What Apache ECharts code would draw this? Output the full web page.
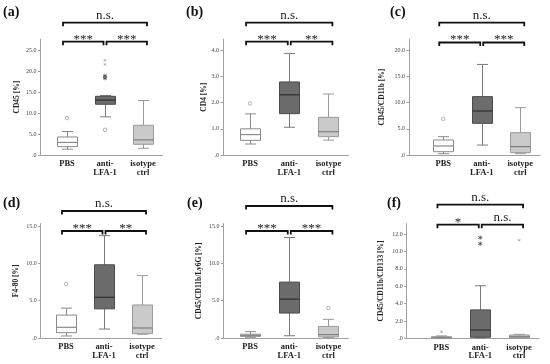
<!DOCTYPE html>
<html><head><meta charset="utf-8">
<script src="https://cdn.jsdelivr.net/npm/echarts@6/dist/echarts.min.js"></script>
<style>html,body{margin:0;padding:0;background:#fff}#c{width:550px;height:364px}</style>
</head><body><div id="c"></div>
<script>
// ---------------- data ----------------
const categories = ['PBS', 'anti-\nLFA-1', 'isotype\nctrl'];
const panelLabels = ['(a)', '(b)', '(c)', '(d)', '(e)', '(f)'];
const yTitles = ['CD45 [%]', 'CD4 [%]', 'CD45/CD11b [%]', 'F4-80 [%]', 'CD45/CD11b/Ly6G [%]', 'CD45/CD11b/CD133 [%]'];

// [lower whisker, Q1, median, Q3, upper whisker] per category
const boxA = [[1.4, 2.0, 3.0, 4.3, 5.6], [9.1, 12.1, 13.1, 14.0, 14.2], [1.6, 2.55, 3.6, 7.1, 13.0]];
const boxB = [[0.42, 0.56, 0.78, 1.0, 1.57], [1.06, 1.58, 2.30, 2.79, 3.88], [0.57, 0.70, 0.89, 1.44, 2.33]];
const boxC = [[0.25, 0.63, 1.72, 2.87, 3.5], [1.9, 6.05, 8.4, 11.15, 17.3], [0.25, 0.45, 1.6, 4.27, 9.05]];
const boxD = [[0.27, 0.71, 1.43, 3.07, 4.0], [1.2, 3.9, 5.45, 9.8, 13.7], [0.5, 0.58, 1.34, 4.42, 8.35]];
const boxE = [[0.1, 0.22, 0.35, 0.5, 0.85], [0.3, 3.34, 5.2, 7.48, 13.45], [0.05, 0.15, 0.45, 1.55, 2.5]];
const boxF = [[0.02, 0.05, 0.1, 0.17, 0.27], [0.05, 0.12, 0.96, 3.27, 6.05], [0.03, 0.07, 0.18, 0.38, 0.46]];

// outliers: [category index, value, kind]  (o = circle, * = extreme, f = faint)
const outA = [[0, 8.8, 'o'], [1, 6.0, 'o'], [1, 18.3, '*'], [1, 18.9, '*'], [1, 21.6, 'f'], [1, 22.6, 'f']];
const outB = [[0, 1.97, 'o']];
const outC = [[0, 6.9, 'o']];
const outD = [[0, 7.2, 'o']];
const outE = [[2, 4.0, 'o']];
const outF = [[0, 0.75, 'f'], [1, 10.9, '*'], [1, 11.6, '*'], [2, 11.3, 'f']];

// y tick labels
const ticksA = [0, 5, 10, 15, 20, 25];
const ticksB = [0, 1, 2, 3, 4];
const ticksC = [0, 5, 10, 15, 20];
const ticksD = [0, 5, 10, 15];
const ticksE = [0, 5, 10, 15];
const ticksF = [0, 2, 4, 6, 8, 10, 12];
const yMax = [27.6, 4.42, 22.1, 15.3, 15.3, 13.2];

// significance brackets: [from category, to category, label, level (1 = upper)]
const brA = [[0, 2, 'n.s.', 1], [0, 1, '***', 0], [1, 2, '***', 0]];
const brB = [[0, 2, 'n.s.', 1], [0, 1, '***', 0], [1, 2, '**', 0]];
const brC = [[0, 2, 'n.s.', 1], [0, 1, '***', 0], [1, 2, '***', 0]];
const brD = [[0, 2, 'n.s.', 1], [0, 1, '***', 0], [1, 2, '**', 0]];
const brE = [[0, 2, 'n.s.', 1], [0, 1, '***', 0], [1, 2, '***', 0]];
const brF = [[0, 2, 'n.s.', 1], [0, 1, '*', 0], [1, 2, 'n.s.', 0]];

const boxes = [boxA, boxB, boxC, boxD, boxE, boxF];
const outliers = [outA, outB, outC, outD, outE, outF];
const ticks = [ticksA, ticksB, ticksC, ticksD, ticksE, ticksF];
const brackets = [brA, brB, brC, brD, brE, brF];

// ---------------- layout / style ----------------
const FONT = 'Liberation Serif';
const layout = [
  { axisX: 40.5, left: 48, width: 114, top: 39.3, height: 115.7, gap: 19, lx: 3, ly: 5, brY: [41.7, 22.7] },
  { axisX: 223, left: 230.5, width: 117.5, top: 39.3, height: 115.7, gap: 15, lx: 186, ly: 5, brY: [41.7, 22.7] },
  { axisX: 409, left: 424, width: 115.5, top: 39.3, height: 115.7, gap: 23, lx: 390, ly: 5, brY: [42.5, 22.7] },
  { axisX: 40.7, left: 47, width: 114, top: 223.7, height: 114.3, gap: 21, lx: 3, ly: 196, brY: [231, 211] },
  { axisX: 223.5, left: 230.5, width: 117.5, top: 223.7, height: 114.3, gap: 20, lx: 187, ly: 196, brY: [231, 206] },
  { axisX: 406.7, left: 422, width: 116.5, top: 223.7, height: 114.6, gap: 22, lx: 387, ly: 196, brY: [224.7, 204.7] }
];
const boxStyles = [
  { fill: '#ffffff', stroke: '#8a8a8a', median: '#8a8a8a', whisker: '#8a8a8a' },
  { fill: '#6c6c6c', stroke: '#4a4a4a', median: '#2e2e2e', whisker: '#7a7a7a' },
  { fill: '#cacaca', stroke: '#9a9a9a', median: '#7e7e7e', whisker: '#9a9a9a' }
];
const AST = 'path://M5 0V10M0.7 2.5L9.3 7.5M9.3 2.5L0.7 7.5';

function boxRenderer(params, api) {
  const c = api.value(0);
  const p = [1, 2, 3, 4, 5].map(d => api.coord([c, api.value(d)]));
  const x = Math.round(p[0][0]) + 0.5;
  const y = p.map(q => q[1]);
  const st = boxStyles[c];
  const hw = 10, cw = 5.5;
  const ws = { stroke: st.whisker, lineWidth: 1 };
  return {
    type: 'group', children: [
      { type: 'line', shape: { x1: x, y1: y[0], x2: x, y2: y[1] }, style: ws },
      { type: 'line', shape: { x1: x, y1: y[3], x2: x, y2: y[4] }, style: ws },
      { type: 'line', shape: { x1: x - cw, y1: y[0], x2: x + cw, y2: y[0] }, style: ws },
      { type: 'line', shape: { x1: x - cw, y1: y[4], x2: x + cw, y2: y[4] }, style: ws },
      { type: 'rect', shape: { x: x - hw, y: y[3], width: 2 * hw, height: Math.max(y[1] - y[3], 0.8) },
        style: { fill: st.fill, stroke: st.stroke, lineWidth: 1 } },
      { type: 'line', shape: { x1: x - hw, y1: y[2], x2: x + hw, y2: y[2] }, style: { stroke: st.median, lineWidth: 1.2 } }
    ]
  };
}

function bracketRenderer(pi) {
  return function (params, api) {
    const b = brackets[pi][params.dataIndex];
    const s = api.value(0), e = api.value(1);
    const xs = api.coord([s, 0])[0], xe = api.coord([e, 0])[0];
    const x1 = xs + (s === 0 ? -4 : 1.5);
    const x2 = xe + (e === 2 ? 4 : -1.5);
    const y = layout[pi].brY[b[3]];
    const isNs = b[2] === 'n.s.';
    return {
      type: 'group', children: [
        { type: 'polyline', shape: { points: [[x1, y + 3.5], [x1, y], [x2, y], [x2, y + 3.5]] },
          style: { stroke: '#111', lineWidth: 1.8, fill: null } },
        { type: 'text', style: { text: b[2], x: (x1 + x2) / 2, y: isNs ? y - 7.5 : y - 2.5, align: 'center', verticalAlign: 'middle',
          fontFamily: FONT, fontSize: isNs ? 13 : 13, fill: '#222' } }
      ]
    };
  };
}

function baseRenderer(pi) {
  return function (params, api) {
    const cs = params.coordSys;
    const L = layout[pi];
    const yb = Math.round(cs.y + cs.height) + 0.5;
    return { type: 'line', shape: { x1: L.axisX, y1: yb, x2: cs.x + cs.width + 1, y2: yb },
      style: { stroke: '#a0a0a0', lineWidth: 1 } };
  };
}

const grid = [], xAxis = [], yAxis = [], series = [], title = [];
layout.forEach((L, i) => {
  grid.push({ left: L.left, top: L.top, width: L.width, height: L.height });
  title.push({ text: panelLabels[i], left: L.lx, top: L.ly, padding: 0,
    textStyle: { fontFamily: FONT, fontWeight: 'bold', fontSize: 14, color: '#111' } });
  xAxis.push({ gridIndex: i, type: 'category', data: categories,
    axisLine: { show: false }, axisTick: { show: false }, splitLine: { show: false },
    axisLabel: { interval: 0, fontFamily: FONT, fontWeight: 'bold', fontSize: 8.5, lineHeight: 8.5, color: '#222', margin: 5 } });
  yAxis.push({ gridIndex: i, type: 'value', min: 0, max: yMax[i], offset: L.left - L.axisX,
    name: yTitles[i], nameLocation: 'middle', nameGap: L.gap,
    nameTextStyle: { fontFamily: FONT, fontWeight: 'bold', fontSize: 7.5, color: '#222' },
    axisLine: { show: true, lineStyle: { color: '#a0a0a0', width: 1 } },
    axisTick: { show: true, length: 2.5, lineStyle: { color: '#a0a0a0' }, customValues: ticks[i] },
    axisLabel: { customValues: ticks[i], formatter: v => (v === 0 ? '.0' : Number(v).toFixed(1)),
      fontFamily: FONT, fontSize: 6, color: '#444', margin: 4 },
    splitLine: { show: false } });
  series.push({ type: 'custom', xAxisIndex: i, yAxisIndex: i, renderItem: baseRenderer(i), data: [[0, 0]], silent: true, z: 1 });
  series.push({ type: 'custom', xAxisIndex: i, yAxisIndex: i, renderItem: boxRenderer,
    encode: { x: 0, y: [1, 2, 3, 4, 5] }, data: boxes[i].map((b, c) => [c].concat(b)), silent: true, z: 2 });
  series.push({ type: 'scatter', xAxisIndex: i, yAxisIndex: i, silent: true, z: 3,
    data: outliers[i].map(o => {
      if (o[2] === 'o') return { value: [o[0], o[1]], symbol: 'circle', symbolSize: 3.5,
        itemStyle: { color: '#fff', borderColor: '#888', borderWidth: 0.8 } };
      if (o[2] === '*') return { value: [o[0], o[1]], symbol: AST, symbolSize: 4,
        itemStyle: { color: 'none', borderColor: '#444', borderWidth: 1 } };
      return { value: [o[0], o[1]], symbol: AST, symbolSize: 3,
        itemStyle: { color: 'none', borderColor: '#aaa', borderWidth: 0.8 } };
    }) });
  series.push({ type: 'custom', xAxisIndex: i, yAxisIndex: i, renderItem: bracketRenderer(i), clip: false,
    encode: { x: 0, y: 1 }, data: brackets[i].map(b => [b[0], b[1]]), silent: true, z: 4 });
});

const chart = echarts.init(document.getElementById('c'), null, { renderer: 'canvas' });
chart.setOption({ animation: false, backgroundColor: '#fff', title, grid, xAxis, yAxis, series });
</script></body></html>
